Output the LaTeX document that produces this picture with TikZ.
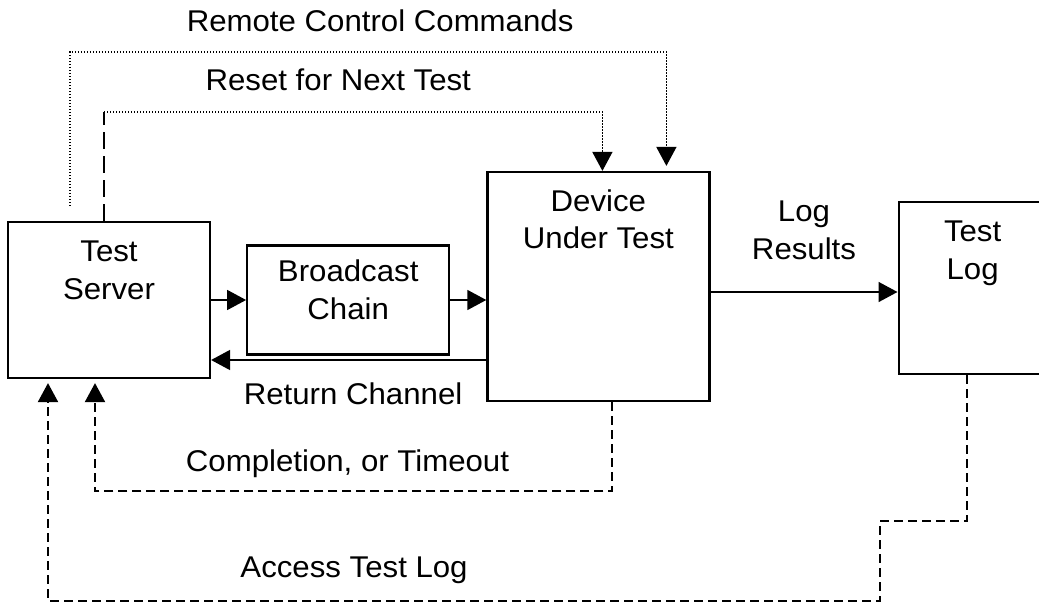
\documentclass[tikz,border=0pt]{standalone}
\usepackage{fontspec}
\setmainfont{Liberation Sans}[FakeStretch=1.04]
\usetikzlibrary{arrows.meta,positioning}

\begin{document}
\begin{tikzpicture}[
  x=1pt,y=-1pt,
  font=\fontsize{30}{37.5}\selectfont,
  block/.style={draw,line width=2.2pt,inner sep=0pt},
  boxtext/.style={anchor=base,align=center,inner sep=0pt},
  lbl/.style={anchor=base,align=center,inner sep=0pt},
  arr/.style={-{Triangle[length=19pt,width=20pt]},line width=1.6pt},
  dotline/.style={line width=1.5pt,dash pattern=on 1.3pt off 1.7pt},
  dashline/.style={line width=2pt,dash pattern=on 9pt off 5pt},
  longdash/.style={line width=1.8pt,dash pattern=on 17pt off 7pt}
]
\useasboundingbox (0,0) rectangle (1039,605);

% the four boxes, left to right
\node[block,minimum width=202pt,minimum height=156pt] (server) at (109,300) {};
\node[block,minimum width=202pt,minimum height=109pt,right=35pt of server] (chain) {};
\node[block,minimum width=222pt,minimum height=229pt,right=36pt of chain,yshift=13.5pt] (dut) {};
\node[block,minimum width=148pt,minimum height=172pt,right=187pt of dut,yshift=-1.5pt] (tlog) {};

% base of a two-line node sits on its last line
\node[boxtext] (servername) at ([yshift=-78.5pt]server.north) {Test\\Server};
\node[boxtext] (chainname) at ([yshift=-75pt]chain.north) {Broadcast\\Chain};
\node[boxtext] (dutname) at ([yshift=-78pt]dut.north) {Device\\Under Test};
\node[boxtext] (tlogname) at ([yshift=-78.5pt]tlog.north) {Test\\Log};

% signal path and return channel
\draw[arr] (server) -- (chain);
\draw[arr] (chain.east) -- (chain.east -| dut.west);
\coordinate (retStart) at ([yshift=-73.5pt]dut.west);
\draw[arr] (retStart) -- (retStart -| server.east)
  node[lbl,pos=.484,yshift=-44pt] {Return Channel};

% results into the log
\coordinate (logStart) at ([yshift=-5.5pt]dut.east);
\draw[arr] (logStart) -- (logStart -| tlog.west)
  node[lbl,midway,yshift=33pt] {Log\\Results};

% control loops over the top
\coordinate (rcStart) at ([xshift=-39pt,yshift=15pt]server.north);
\draw[arr,dotline] (rcStart) -- ++(0,-154)
  -| node[lbl,pos=.26,yshift=20pt] {Remote Control Commands}
  ([xshift=68pt,yshift=5pt]dut.north);
\draw[longdash] ([xshift=-5pt]server.north) -- ++(0,-109) coordinate (rsCorner);
\draw[arr,dotline] (rsCorner)
  -| node[lbl,pos=.235,yshift=21pt] {Reset for Next Test}
  ([xshift=4pt]dut.north);

% feedback loops underneath
\draw[arr,dashline] ([xshift=14pt]dut.south) -- ++(0,89)
  -| node[lbl,pos=.256,yshift=20pt] {Completion, or Timeout}
  ([xshift=-14pt,yshift=-4pt]server.south);
\draw[arr,dashline] ([xshift=-6pt]tlog.south) -- ++(0,146) -| ++(-87,80)
  -| node[lbl,pos=.316,yshift=24pt] {Access Test Log}
  ([xshift=-61pt,yshift=-4pt]server.south);
\end{tikzpicture}
\end{document}
